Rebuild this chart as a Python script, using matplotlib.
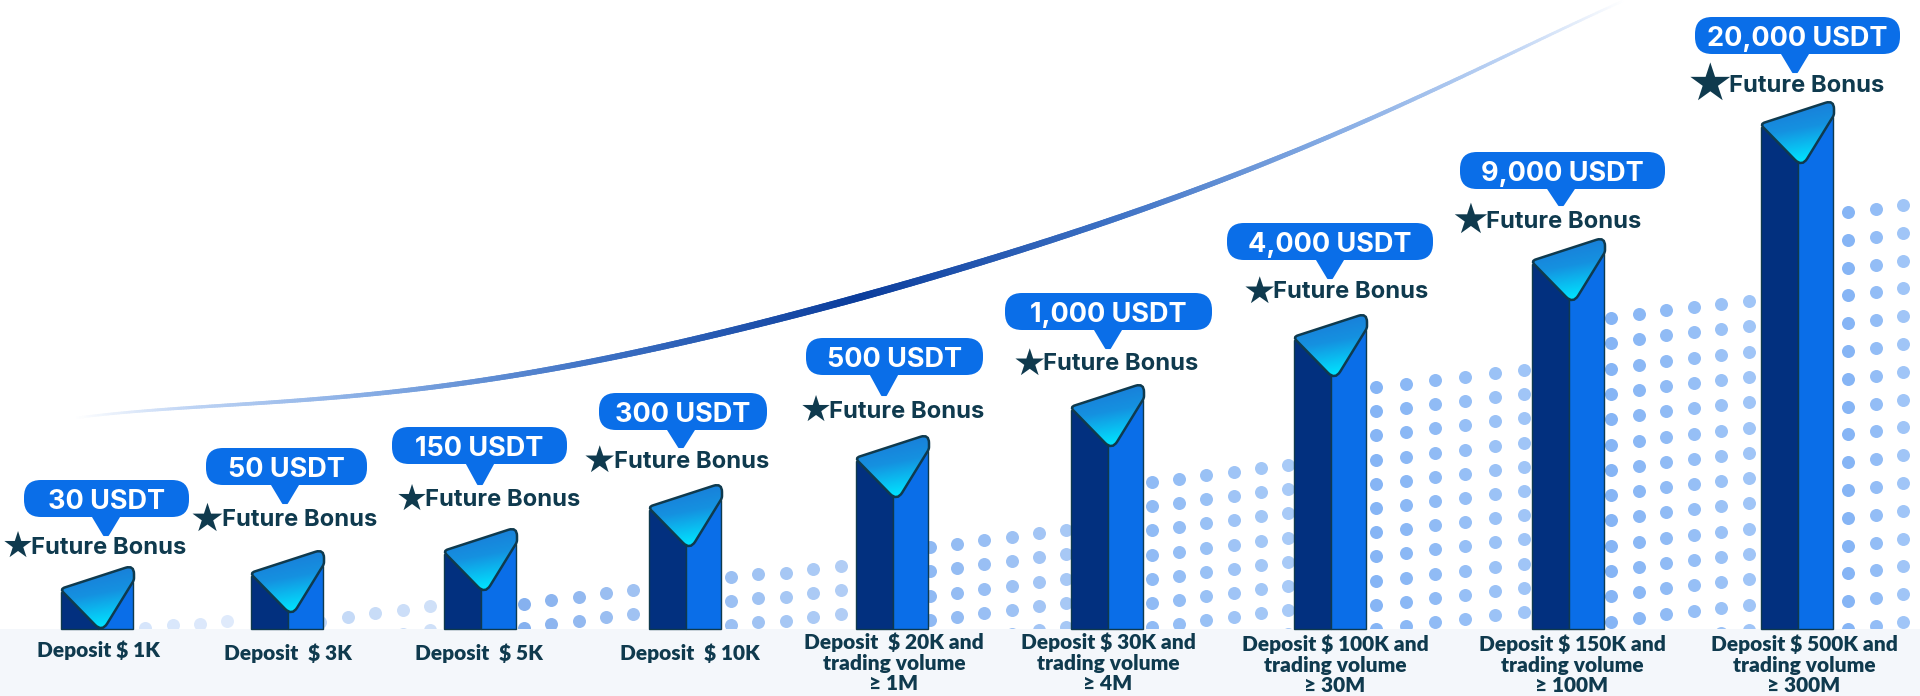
import numpy as np
import matplotlib
matplotlib.use("Agg")
import matplotlib.pyplot as plt
from matplotlib.path import Path
from matplotlib.patches import PathPatch, FancyBboxPatch, Polygon
from matplotlib.collections import LineCollection
from matplotlib.colors import LinearSegmentedColormap

# ---------- content ----------
rewards = ["30 USDT", "50 USDT", "150 USDT", "300 USDT", "500 USDT",
           "1,000 USDT", "4,000 USDT", "9,000 USDT", "20,000 USDT"]
tiers = ["Deposit $ 1K", "Deposit  $ 3K", "Deposit  $ 5K", "Deposit  $ 10K",
         "Deposit  $ 20K and\ntrading volume\n≥ 1M",
         "Deposit $ 30K and\ntrading volume\n≥ 4M",
         "Deposit $ 100K and\ntrading volume\n≥ 30M",
         "Deposit $ 150K and\ntrading volume\n≥ 100M",
         "Deposit $ 500K and\ntrading volume\n≥ 300M"]
bonus_label = "Future Bonus"
bar_heights = [61, 77, 99, 143, 192, 243, 313, 389, 526]

# dotted background: top of each column
dot_tops = [
    [628, 625, 624, 621],
    [622, 617, 613, 610, 606],
    [604, 600, 597, 593, 590],
    [577, 574, 573, 569, 566],
    [547, 544, 540, 537, 533, 530],
    [482, 479, 475, 472, 468, 465],
    [387, 384, 380, 377, 373, 370],
    [318, 314, 310, 307, 304, 301],
    [212, 209, 205],
]

# swoosh knots
swoosh_x = [75, 264, 468, 672, 860, 921, 1115, 1268, 1421, 1523, 1625]
swoosh_y = [418, 403, 382, 345, 297, 280, 218, 163, 95, 48, 0]

# ---------- layout ----------
W, H = 1920, 696
BASE = 629
bar_left = [61, 251, 444, 649, 856, 1071, 1294, 1532, 1761]
BAR_W = 72
RIDGE = 37
dot_x = [
    [145, 173, 200, 227],
    [320, 348, 375, 403, 430],
    [524, 551, 579, 606, 633],
    [731, 758, 786, 813, 841],
    [930, 957, 984, 1012, 1039, 1066],
    [1152, 1179, 1206, 1234, 1261, 1288],
    [1376, 1406, 1435, 1465, 1495, 1524],
    [1611, 1639, 1666, 1694, 1721, 1749],
    [1848, 1876, 1903],
]
dot_step = [24, 24, 24, 24, 24.3, 24.2, 24.2, 25.3, 27.8]
dot_col = ['#d6e5fb', '#c2d8f7', '#86b1ef', '#9bc0f3', '#8fb9f3',
           '#90bbf5', '#86b5f5', '#86b5f5', '#86b5f5']
bub_l = [24, 206, 392, 599, 806, 1005, 1227, 1460, 1695]
bub_r = [189, 367, 567, 767, 983, 1212, 1433, 1665, 1900]
bub_t = [480, 448, 427, 393, 338, 293, 223, 152, 17]
BUB_H = 37
tip_x = [106, 285, 480, 681, 884, 1108, 1330, 1561, 1795]
tip_y = [536, 504, 485, 448, 396, 349, 279, 206, 73]
star_l = [7, 195, 401, 588, 805, 1018, 1248, 1457, 1694]
star_w = [22, 24, 22, 23, 22, 23, 23, 26, 32]
bonus_x = [31, 222, 425, 614, 829, 1043, 1273, 1486, 1729]
bonus_y = [545, 518, 498, 459, 409, 362, 290, 219, 84]
lab_x = [98, 288, 479, 690, 894, 1108, 1335, 1572, 1804]
lab_y = [650, 653, 653, 653, 663, 663, 665, 665, 665]

DARK = '#0f3a4e'
NAVY = '#02307f'
BLUE = '#0a6ee8'

fig = plt.figure(figsize=(19.2, 6.96), dpi=100, facecolor='white')
ax = fig.add_axes([0, 0, 1, 1])
ax.set_axis_off()

# swoosh
coef = np.polyfit(swoosh_x, swoosh_y, 6)
sx = np.linspace(swoosh_x[0], swoosh_x[-1], 600)
sy = np.polyval(coef, sx)
pts = np.column_stack([sx, sy])
segs = np.stack([pts[:-1], pts[1:]], axis=1)
mid = 0.5 * (sx[:-1] + sx[1:])
t = np.clip(np.where(mid < 860, (860 - mid) / 785, (mid - 860) / 765), 0, 1)
swoosh_cmap = LinearSegmentedColormap.from_list(
    'sw', [(0, '#0b3d9c'), (0.33, '#3d71c4'), (0.62, '#86ace4'), (0.85, '#bdd3f4'), (1, '#ffffff')])
lws = (2.0 + 5.5 * (1 - t) ** 0.8) * 0.72
ax.add_collection(LineCollection(segs, colors=swoosh_cmap(t), linewidths=lws, capstyle='round', zorder=1))

# dots
for xs, tops, step, col in zip(dot_x, dot_tops, dot_step, dot_col):
    for k, (x, top) in enumerate(zip(xs, tops)):
        n = int(np.ceil((BASE + 8 - top) / step))
        ys = top + step * np.arange(n)
        ax.scatter([x] * n, ys, s=(13 * 0.72) ** 2, color=col, linewidths=0,
                   alpha=1 - 0.22 * k / max(len(xs) - 1, 1), zorder=2)

# bottom band
ax.axhspan(BASE, H, color='#f4f7fb', lw=0, zorder=3)

# bars
cmap = LinearSegmentedColormap.from_list('tri', ['#1b76d6', '#1591e0', '#00e4ff'])


def rounded(points, radii):
    verts, codes = [], []
    pts_ = [np.array(p, float) for p in points]
    n = len(pts_)
    for i in range(n):
        p, a, b = pts_[i], pts_[i - 1], pts_[(i + 1) % n]
        p1 = p + (a - p) / np.linalg.norm(a - p) * radii[i]
        p2 = p + (b - p) / np.linalg.norm(b - p) * radii[i]
        verts.append(p1)
        codes.append(Path.MOVETO if i == 0 else Path.LINETO)
        verts += [p, p2]
        codes += [Path.CURVE3, Path.CURVE3]
    verts.append(verts[0])
    codes.append(Path.CLOSEPOLY)
    return Path(verts, codes)


for L, h in zip(bar_left, bar_heights):
    top = BASE - h
    ridge = L + RIDGE
    R = L + BAR_W
    ax.bar(L, -(h - 24), width=RIDGE, bottom=BASE, align='edge', color=NAVY,
           edgecolor=DARK, linewidth=1, zorder=4)
    ax.bar(ridge, -(h - 14), width=BAR_W - RIDGE, bottom=BASE, align='edge', color=BLUE,
           edgecolor=DARK, linewidth=1, zorder=4)
    corners = [(L - 1, top + 21), (R + 1, top - 3), (R + 1, top + 12), (L + 41, top + 64)]
    tri = rounded(corners, [5, 9, 2, 10])
    ax.add_patch(PathPatch(tri, facecolor='none', edgecolor=DARK, linewidth=1.8, zorder=6))
    gy, gx = np.mgrid[0:1:60j, 0:1:60j]
    g = np.clip(gy * 0.9 + gx * 0.2, 0, 1)
    im = ax.imshow(g, extent=(L - 2, R + 2, top + 60, top - 2), cmap=cmap, vmin=0, vmax=1,
                   aspect='auto', interpolation='bilinear', zorder=5)
    im.set_clip_path(PathPatch(tri, transform=ax.transData))

# bubbles, stars, texts
for i in range(len(rewards)):
    l, r, tp = bub_l[i], bub_r[i], bub_t[i]
    rad = 17
    ax.add_patch(FancyBboxPatch((l + rad, tp + rad), r - l - 2 * rad, BUB_H - 2 * rad,
                                boxstyle=f"round,pad={rad},rounding_size={rad}",
                                facecolor=BLUE, edgecolor='none', zorder=7))
    ax.add_patch(Polygon([(tip_x[i] - 14, tp + BUB_H - 2), (tip_x[i] + 14, tp + BUB_H - 2),
                          (tip_x[i] + 2, tip_y[i] - 1), (tip_x[i] - 2, tip_y[i] - 1)],
                         closed=True, facecolor=BLUE, edgecolor=BLUE, linewidth=1.5,
                         joinstyle='round', zorder=7))
    ax.text(0.5 * (l + r), tp + BUB_H / 2 + 0.5, rewards[i], color='white', ha='center', va='center_baseline',
            fontsize=19.5, fontweight='bold', family='Inter', zorder=8)
    ax.text(star_l[i] + star_w[i] / 2, bonus_y[i] + 2, '★', color=DARK, ha='center', va='center',
            fontsize=star_w[i] * 1.17, family='DejaVu Sans', zorder=8)
    ax.text(bonus_x[i], bonus_y[i], bonus_label, color=DARK, ha='left', va='center_baseline',
            fontsize=17.1, fontweight='bold', family='Inter', zorder=8)
    ax.text(lab_x[i], lab_y[i], tiers[i], color=DARK, ha='center', va='center',
            fontsize=15, fontweight='heavy', family='Lato', linespacing=1.1, zorder=8)

ax.set_xlim(0, W)
ax.set_ylim(H, 0)
fig.savefig('out.png', dpi=100)
